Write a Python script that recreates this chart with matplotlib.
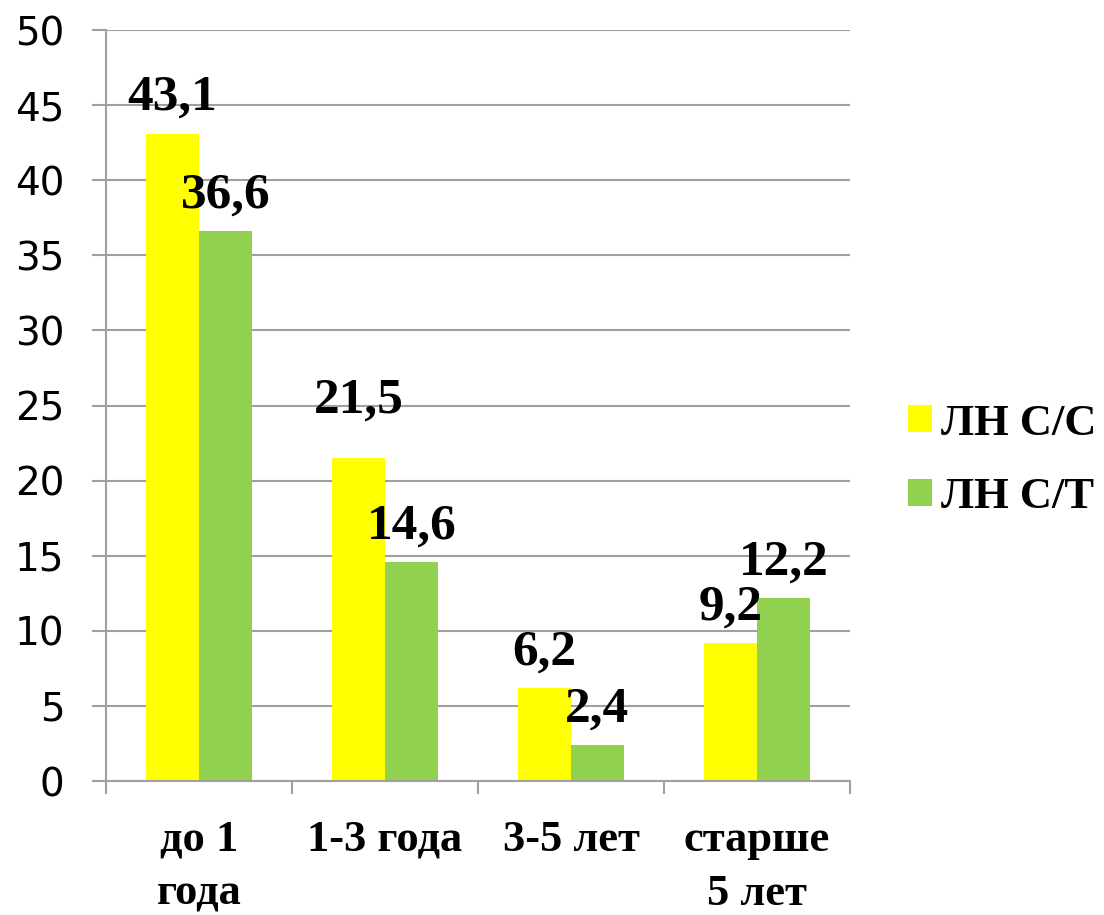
import matplotlib.pyplot as plt
import numpy as np

# стаж работы и доли по двум группам
categories = ["до 1\nгода", "1-3 года", "3-5 лет", "старше\n5 лет"]
series_names = ["ЛН С/С", "ЛН С/Т"]
values_cc = [43.1, 21.5, 6.2, 9.2]
values_ct = [36.6, 14.6, 2.4, 12.2]
colors = ["#FFFF00", "#92D050"]

serif = "Liberation Serif"
grid_col = "#A0A0A0"

fig = plt.figure(figsize=(11.04, 9.15), dpi=100)
ax = fig.add_axes([0.0960, 0.1464, 0.6739, 0.8208])

x = np.arange(len(categories))
w = 0.285
bars1 = ax.bar(x - w / 2, values_cc, w, color=colors[0], label=series_names[0], zorder=2)
bars2 = ax.bar(x + w / 2, values_ct, w, color=colors[1], label=series_names[1], zorder=2)

# подписи значений над столбиками
for bars, vals in ((bars1, values_cc), (bars2, values_ct)):
    for b, v in zip(bars, vals):
        dy = 17
        if v == 21.5:
            dy = 33  # эта подпись стоит выше остальных
        ax.annotate(f"{v:.1f}".replace(".", ","),
                    (b.get_x() + b.get_width() / 2, v),
                    xytext=(0, dy), textcoords="offset points",
                    ha="center", va="baseline",
                    fontsize=37, fontweight="bold", family=serif, zorder=3)

ax.set_ylim(0, 50)
ax.set_yticks(np.arange(0, 51, 5))
ax.set_xlim(-0.5, len(categories) - 0.5)
ax.set_xticks(x)
ax.set_xticklabels(categories, fontsize=32, fontweight="bold", family=serif,
                   linespacing=1.45)
ax.set_xticks(np.arange(-0.5, len(categories), 1), minor=True)

ax.grid(axis="y", color=grid_col, linewidth=1.5, zorder=0)
ax.tick_params(axis="y", labelsize=28, length=10, width=1.5, color=grid_col, pad=20)
ax.tick_params(axis="x", which="major", length=0, pad=28)
ax.tick_params(axis="x", which="minor", length=9, width=1.5, color=grid_col)

for s in ("top", "right"):
    ax.spines[s].set_visible(False)
for s in ("left", "bottom"):
    ax.spines[s].set_color(grid_col)
    ax.spines[s].set_linewidth(1.5)

fig.legend(loc="center left", bbox_to_anchor=(0.806, 0.497), frameon=False,
           prop={"family": serif, "weight": "bold", "size": 32},
           handlelength=0.55, handleheight=0.55, handletextpad=0.2,
           labelspacing=0.75, borderaxespad=0)

fig.savefig("out.png", dpi=100)
